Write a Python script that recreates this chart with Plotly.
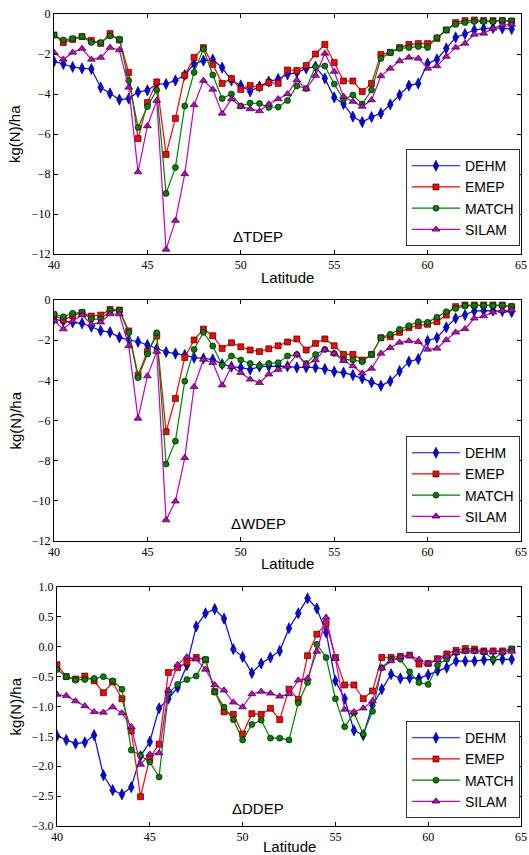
import plotly.graph_objects as go

lat = [40 + 0.5 * i for i in range(50)]

# Panel 1: TDEP
tdep_dehm = [-2.37, -2.5, -2.65, -2.72, -2.75, -3.67, -3.97, -4.28, -4.23, -3.9,
             -3.82, -3.5, -3.5, -3.32, -3.05, -2.5, -2.33, -2.28, -2.68, -3.32,
             -3.57, -3.87, -3.62, -3.38, -3.25, -3.02, -2.93, -2.72, -2.63, -3.22,
             -4.17, -4.5, -5.13, -5.4, -5.15, -4.97, -4.52, -4.05, -3.58, -3.47,
             -2.47, -2.27, -1.72, -1.17, -1.0, -0.8, -0.73, -0.7, -0.72, -0.75]
tdep_emep = [-1.05, -1.43, -1.27, -1.13, -1.32, -1.47, -0.98, -1.3, -2.92, -6.23,
             -4.43, -3.4, -7.02, -5.22, -3.07, -2.17, -1.68, -2.52, -3.47, -3.23,
             -3.77, -3.57, -3.68, -3.42, -3.47, -2.8, -2.83, -2.58, -2.0, -1.52,
             -2.43, -3.35, -3.35, -3.88, -3.47, -2.02, -1.92, -1.68, -1.52, -1.48,
             -1.48, -1.22, -0.8, -0.43, -0.33, -0.3, -0.33, -0.33, -0.33, -0.35]
tdep_match = [-1.05, -1.3, -1.22, -1.13, -1.43, -1.42, -1.1, -1.25, -3.33, -5.67,
              -4.63, -3.8, -8.97, -7.67, -4.6, -2.92, -1.75, -3.05, -4.23, -4.0,
              -4.6, -4.45, -4.48, -4.67, -4.65, -4.33, -3.6, -3.72, -2.63, -2.6,
              -3.5, -4.27, -4.05, -4.5, -3.8, -2.22, -1.92, -1.72, -1.68, -1.63,
              -1.68, -1.17, -0.8, -0.52, -0.43, -0.38, -0.38, -0.38, -0.33, -0.35]
tdep_silam = [-1.92, -2.27, -1.92, -1.73, -2.27, -2.18, -1.68, -1.8, -3.67, -7.9,
              -5.6, -4.33, -11.77, -10.33, -8.0, -4.55, -3.33, -3.77, -4.97, -4.25,
              -4.63, -4.75, -4.85, -4.5, -4.25, -4.0, -3.3, -3.75, -3.08, -1.97,
              -2.88, -4.13, -4.38, -4.63, -4.3, -3.1, -2.72, -2.35, -2.17, -2.22,
              -2.72, -2.6, -2.13, -1.67, -1.47, -1.02, -0.97, -0.72, -0.55, -0.52]

# Panel 2: WDEP
wdep_dehm = [-0.95, -1.05, -1.11, -1.16, -1.33, -1.53, -1.6, -1.86, -1.99, -2.08,
             -2.24, -2.43, -2.59, -2.67, -2.74, -2.87, -2.91, -2.96, -3.19, -3.32,
             -3.37, -3.46, -3.32, -3.29, -3.29, -3.3, -3.36, -3.36, -3.36, -3.44,
             -3.57, -3.62, -3.74, -3.9, -4.1, -4.27, -4.04, -3.54, -3.07, -2.94,
             -2.03, -1.88, -1.36, -0.91, -0.75, -0.55, -0.53, -0.53, -0.55, -0.6]
wdep_emep = [-0.75, -1.0, -0.78, -0.63, -0.8, -0.75, -0.47, -0.5, -1.54, -3.74,
             -2.57, -1.79, -6.56, -4.9, -2.86, -1.99, -1.45, -1.78, -2.41, -2.13,
             -2.33, -2.49, -2.57, -2.43, -2.28, -2.09, -1.94, -2.49, -2.16, -1.94,
             -2.28, -2.71, -2.71, -2.99, -2.71, -1.88, -1.83, -1.61, -1.38, -1.28,
             -1.21, -1.08, -0.75, -0.33, -0.25, -0.25, -0.25, -0.25, -0.25, -0.33]
wdep_match = [-0.7, -0.83, -0.66, -0.61, -0.95, -0.95, -0.53, -0.53, -1.63, -3.87,
              -2.69, -1.63, -8.17, -7.03, -4.04, -2.46, -1.61, -2.29, -3.24, -2.79,
              -2.99, -3.16, -3.27, -3.16, -3.12, -2.79, -2.71, -3.16, -2.71, -2.46,
              -2.66, -2.96, -2.99, -3.07, -2.71, -1.88, -1.71, -1.46, -1.28, -1.08,
              -1.11, -0.86, -0.58, -0.42, -0.3, -0.28, -0.28, -0.28, -0.28, -0.33]
wdep_silam = [-1.03, -1.45, -1.05, -0.75, -1.21, -1.11, -0.7, -0.7, -2.29, -5.9,
              -3.79, -2.57, -10.96, -10.02, -7.86, -4.32, -2.96, -3.12, -4.24, -3.32,
              -3.62, -3.95, -4.12, -3.7, -3.46, -3.3, -2.71, -3.24, -2.99, -2.46,
              -2.66, -3.02, -3.29, -3.65, -3.41, -2.66, -2.38, -2.11, -2.04, -2.08,
              -2.46, -2.41, -1.99, -1.61, -1.44, -0.91, -0.8, -0.61, -0.53, -0.5]

# Panel 3: DDEP
ddep_dehm = [-1.49, -1.56, -1.62, -1.6, -1.48, -2.15, -2.4, -2.47, -2.35, -1.83,
             -1.59, -1.03, -0.87, -0.68, -0.31, 0.34, 0.56, 0.63, 0.47, -0.04,
             -0.17, -0.44, -0.28, -0.18, -0.07, 0.31, 0.56, 0.81, 0.64, 0.24,
             -0.57, -0.87, -1.4, -1.48, -0.98, -0.71, -0.46, -0.53, -0.52, -0.53,
             -0.47, -0.4, -0.35, -0.24, -0.24, -0.24, -0.22, -0.22, -0.21, -0.21]
ddep_emep = [-0.3, -0.5, -0.54, -0.49, -0.57, -0.77, -0.59, -0.87, -1.41, -2.51,
             -1.86, -1.63, -0.43, -0.35, -0.26, -0.18, -0.22, -0.75, -1.09, -1.13,
             -1.46, -1.12, -1.13, -1.03, -1.22, -0.71, -0.88, -0.15, 0.21, 0.39,
             -0.18, -0.64, -0.64, -0.87, -0.74, -0.18, -0.18, -0.16, -0.14, -0.29,
             -0.28, -0.2, -0.12, -0.06, -0.03, -0.04, -0.07, -0.07, -0.07, -0.04]
ddep_match = [-0.38, -0.5, -0.56, -0.55, -0.53, -0.5, -0.57, -0.71, -1.73, -1.82,
              -1.93, -2.18, -0.78, -0.63, -0.55, -0.49, -0.21, -0.76, -1.01, -1.22,
              -1.56, -1.3, -1.23, -1.53, -1.53, -1.56, -0.94, -0.6, 0.04, -0.18,
              -0.87, -1.34, -1.11, -1.46, -1.08, -0.35, -0.21, -0.21, -0.42, -0.6,
              -0.63, -0.31, -0.21, -0.1, -0.07, -0.07, -0.09, -0.21, -0.1, -0.04]
ddep_silam = [-0.8, -0.82, -0.91, -0.99, -1.09, -1.1, -1.01, -1.11, -1.34, -1.97,
              -1.8, -1.78, -0.73, -0.3, -0.17, -0.21, -0.38, -0.64, -0.73, -0.93,
              -1.01, -0.79, -0.75, -0.78, -0.83, -0.79, -0.56, -0.53, -0.08, 0.49,
              -0.2, -1.05, -1.09, -1.03, -0.91, -0.36, -0.24, -0.17, -0.15, -0.21,
              -0.28, -0.22, -0.16, -0.1, -0.08, -0.08, -0.09, -0.09, -0.09, -0.08]

models = ["DEHM", "EMEP", "MATCH", "SILAM"]
panel_labels = ["\u0394TDEP", "\u0394WDEP", "\u0394DDEP"]
panels = [
    [tdep_dehm, tdep_emep, tdep_match, tdep_silam],
    [wdep_dehm, wdep_emep, wdep_match, wdep_silam],
    [ddep_dehm, ddep_emep, ddep_match, ddep_silam],
]
xticks = [40, 45, 50, 55, 60, 65]
yticks = [
    [0, -2, -4, -6, -8, -10, -12],
    [0, -2, -4, -6, -8, -10, -12],
    [1.0, 0.5, 0.0, -0.5, -1.0, -1.5, -2.0, -2.5, -3.0],
]
yranges = [[-12, 0], [-12, 0], [-3, 1]]

styles = [
    dict(color="#0000ff", symbol="diamond-tall", size=8),
    dict(color="#ff0000", symbol="square", size=6),
    dict(color="#008000", symbol="circle", size=6),
    dict(color="#bf00bf", symbol="triangle-up", size=7),
]

W, H = 529, 855
# pixel boxes (left, right, top, bottom)
boxes = [(54, 521, 14, 254), (54, 521, 300, 541), (57, 521, 587, 826)]
legend_bottoms = [247, 534, 819]
xtitle_y = [277, 563, 846]

def fmt(v, dec):
    s = f"{abs(v):.{dec}f}"
    return ("\u2212" + s) if v < 0 else s

fig = go.Figure()
layout = dict(
    width=W, height=H, margin=dict(l=0, r=0, t=0, b=0, autoexpand=False),
    paper_bgcolor="white", plot_bgcolor="white", showlegend=True,
    font=dict(family="Liberation Sans", size=15, color="black"),
)
annotations = []
tickfont = dict(family="Liberation Serif", size=12, color="black")
for p in range(3):
    sfx = "" if p == 0 else str(p + 1)
    leg = "legend" if p == 0 else f"legend{p + 1}"
    for m in range(4):
        st = styles[m]
        fig.add_trace(go.Scatter(
            x=lat, y=panels[p][m], mode="lines+markers", name=models[m],
            xaxis="x" + sfx, yaxis="y" + sfx, legend=leg,
            line=dict(color=st["color"], width=1.2),
            marker=dict(color=st["color"], symbol=st["symbol"], size=st["size"],
                        line=dict(color="black", width=0.6)),
        ))
    l, r, t, b = boxes[p]
    dec = 1 if p == 2 else 0
    layout["xaxis" + sfx] = dict(
        domain=[l / W, r / W], anchor="y" + sfx, range=[40, 65],
        tickvals=xticks, ticktext=[str(v) for v in xticks],
        ticks="inside", ticklen=4, tickcolor="black", mirror="allticks",
        showline=True, linecolor="black", linewidth=1, showgrid=False, zeroline=False,
        tickfont=tickfont, automargin=False, ticklabeloverflow="allow",
    )
    layout["yaxis" + sfx] = dict(
        domain=[1 - b / H, 1 - t / H], anchor="x" + sfx, range=yranges[p],
        tickvals=yticks[p], ticktext=[fmt(v, dec) for v in yticks[p]],
        ticks="inside", ticklen=4, tickcolor="black", mirror="allticks",
        showline=True, linecolor="black", linewidth=1, showgrid=False, zeroline=False,
        tickfont=tickfont, automargin=False, ticklabeloverflow="allow",
    )
    layout[leg] = dict(
        x=r / W - 0.002, y=1 - legend_bottoms[p] / H + 0.001, xanchor="right", yanchor="bottom",
        bgcolor="white", bordercolor="#333333", borderwidth=1,
        font=dict(family="Liberation Sans", size=14), itemwidth=48,
        tracegroupgap=0,
    )
    annotations.append(dict(
        text=panel_labels[p], xref="paper", yref="paper",
        x=258 / W, y=1 - (b - 18) / H, showarrow=False,
        font=dict(family="Liberation Sans", size=15), xanchor="center", yanchor="middle",
    ))
    annotations.append(dict(
        text="Latitude", xref="paper", yref="paper",
        x=(l + r) / 2 / W, y=1 - xtitle_y[p] / H, showarrow=False,
        font=dict(family="Liberation Sans", size=15), xanchor="center", yanchor="middle",
    ))
    annotations.append(dict(
        text="kg(N)/ha", xref="paper", yref="paper", textangle=-90,
        x=15 / W, y=1 - (t + b) / 2 / H, showarrow=False,
        font=dict(family="Liberation Sans", size=15), xanchor="center", yanchor="middle",
    ))
layout["annotations"] = annotations
fig.update_layout(**layout)
fig.write_html("out.html", config={"displayModeBar": False},
               post_script="document.body.style.margin='0';document.body.style.overflow='hidden';")
